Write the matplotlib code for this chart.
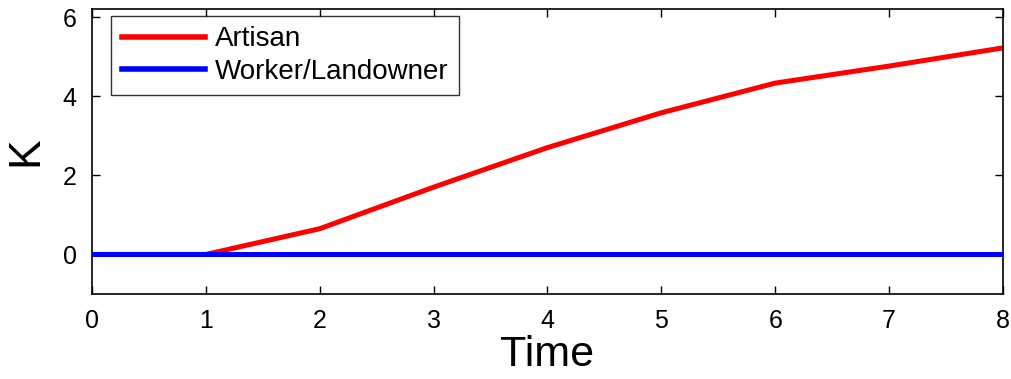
import matplotlib
matplotlib.use("Agg")
import matplotlib.pyplot as plt

plt.rcParams['font.family'] = ['Liberation Sans', 'DejaVu Sans']

time = [0, 1, 2, 3, 4, 5, 6, 7, 8]
artisan = [0, 0, 0.65, 1.7, 2.7, 3.58, 4.33, 4.76, 5.22]
worker = [0, 0, 0, 0, 0, 0, 0, 0, 0]
labels = ["Artisan", "Worker/Landowner"]

fig = plt.figure(figsize=(10.12, 3.79), dpi=100)
ax = fig.add_axes([0.0909, 0.2243, 0.9002, 0.7517])
ax.plot(time, artisan, color='#ff0000', lw=3.6, label=labels[0], zorder=2)
ax.plot(time, worker, color='#0000ff', lw=3.6, label=labels[1], zorder=3)
ax.set_xlim(0, 8)
ax.set_ylim(-1, 6.2)
ax.set_xticks(range(0, 9))
ax.set_yticks([0, 2, 4, 6])
ax.tick_params(direction='in', top=True, right=True, labelsize=18, length=6, width=1, pad=11)
for s in ax.spines.values():
    s.set_linewidth(1.2)
ax.set_xlabel("Time", fontsize=31, labelpad=1)
ax.set_ylabel("K", fontsize=32, labelpad=12)
leg = ax.legend(loc='upper left', bbox_to_anchor=(111 / 1012, 1 - 15.7 / 379),
                bbox_transform=fig.transFigure, fontsize=20, handlelength=3.0,
                handletextpad=0.36, frameon=True, fancybox=False, edgecolor='black',
                borderaxespad=0, labelspacing=0.24, borderpad=0.38)
leg.get_frame().set_linewidth(1)
for h in leg.get_lines():
    h.set_linewidth(4)
fig.savefig("out.png", dpi=100)
